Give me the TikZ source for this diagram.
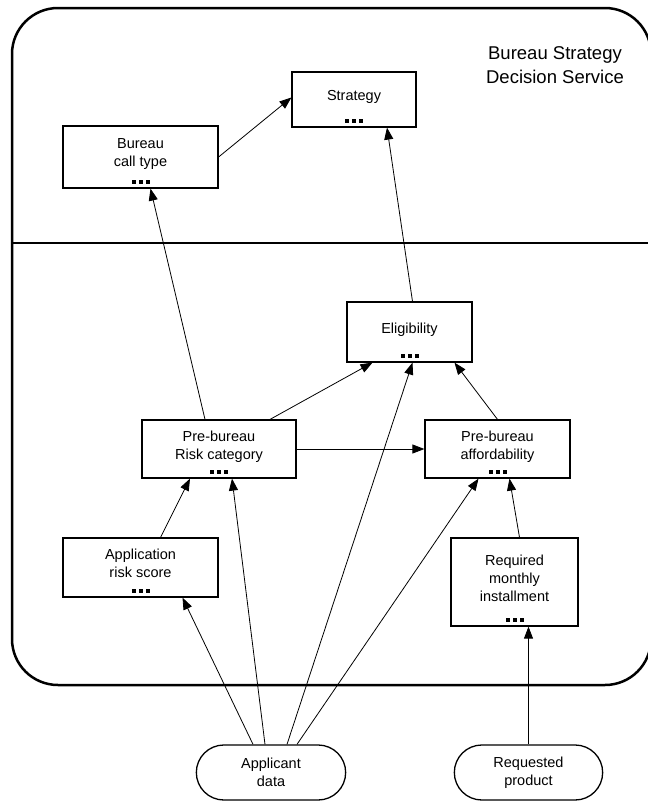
\documentclass[tikz,border=0pt]{standalone}
\usepackage{fontspec}
\setmainfont{Liberation Sans}
\usetikzlibrary{arrows.meta,shapes.misc,shadows}

\begin{document}
\begin{tikzpicture}[x=1pt,y=-1pt,font=\fontsize{14.5}{18}\selectfont,>={Triangle[length=12pt,width=9pt]},
  box/.style={draw,line width=1.2pt,fill=white,align=center,text depth=8pt,
    drop shadow={shadow xshift=1pt,shadow yshift=-1pt,opacity=1,fill=black}},
  source/.style={draw,rounded rectangle,line width=1.3pt,fill=white,align=center,
    minimum width=156pt,minimum height=55pt},
  link/.style={->,line width=0.8pt}]
  \useasboundingbox (0,0) rectangle (648,804);

  % service frame
  \draw[line width=2.5pt,rounded corners=46pt] (12,8) rectangle (651,685);
  \draw[line width=1.2pt] (12,243) -- (651,243);
  \node[font=\fontsize{18.5}{24}\selectfont,align=center] (title) at (555,65) {Bureau Strategy\\Decision Service};

  % decisions
  \node[box,minimum width=124pt,minimum height=55pt] (strat) at (354,99.5) {Strategy};
  \node[box,minimum width=155pt,minimum height=62pt] (call) at (140.5,157) {Bureau\\call type};
  \node[box,minimum width=125pt,minimum height=60pt] (elig) at (409.5,332) {Eligibility};
  \node[box,minimum width=154pt,minimum height=58pt] (risk) at (219,449) {Pre-bureau\\Risk category};
  \node[box,minimum width=145pt,minimum height=58pt] (afford) at (497.5,449) {Pre-bureau\\affordability};
  \node[box,minimum width=155pt,minimum height=59pt] (score) at (140.5,567.5) {Application\\risk score};
  \node[box,minimum width=127pt,minimum height=88pt] (inst) at (514.5,582) {Required\\monthly\\installment};
  % collapsed-detail marks
  \foreach \n in {strat,call,elig,risk,afford,score,inst}
    \foreach \i in {-1,0,1}
      \fill ([xshift=\i*7pt-2pt,yshift=5pt]\n.south) rectangle ++(4pt,4pt);

  % input data
  \node[source] (appl) at (271,772.5) {Applicant\\data};
  \node[source,minimum width=155pt] (prod) at (528.5,772.5) {Requested\\product};

  % requirements
  \draw[link] (call.east) -- ([yshift=2]strat.west);
  \draw[link] ([xshift=3]elig.north) -- ([xshift=33]strat.south);
  \draw[link] ([xshift=-14]risk.north) -- ([xshift=10]call.south);
  \draw[link] ([xshift=51]risk.north) -- ([xshift=-37]elig.south);
  \draw[link] (risk.east) -- (afford.west);
  \draw[link] (afford.north) -- ([xshift=45]elig.south);
  \draw[link] ([xshift=20]score.north) -- ([xshift=-29]risk.south);
  \draw[link] ([xshift=-18]appl.north) -- ([xshift=42]score.south);
  \draw[link] ([xshift=-6]appl.north) -- ([xshift=13]risk.south);
  \draw[link] ([xshift=16]appl.north) -- ([xshift=3]elig.south);
  \draw[link] ([xshift=26]appl.north) -- ([xshift=-19]afford.south);
  \draw[link] ([xshift=5]inst.north) -- ([xshift=12]afford.south);
  \draw[link] (prod.north) -- ([xshift=14]inst.south);
\end{tikzpicture}
\end{document}
